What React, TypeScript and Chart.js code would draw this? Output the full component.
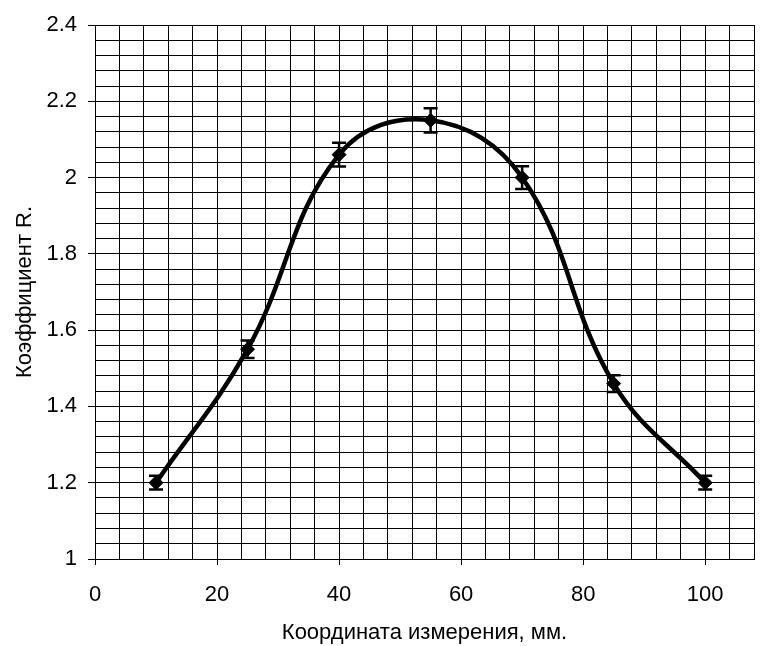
import React, { useEffect, useRef } from "react";
import { Chart, registerables } from "chart.js";

Chart.register(...registerables);

const xValues = [10, 25, 40, 55, 70, 85, 100];
const rValues = [1.2, 1.55, 2.06, 2.15, 2.0, 1.46, 1.2];
const rErrors = [0.018, 0.023, 0.031, 0.032, 0.03, 0.022, 0.018];

const xTitle = "Координата измерения, мм.";
const yTitle = "Коэффициент R.";

const FONT = "'Liberation Sans', Arial, sans-serif";
const FSIZE = 22;

const errorBarPlugin = {
  id: "errorBars",
  afterDatasetsDraw(chart: any) {
    const ctx = chart.ctx;
    const meta = chart.getDatasetMeta(0);
    const ys = chart.scales.y;
    ctx.save();
    ctx.strokeStyle = "#000";
    ctx.lineWidth = 2.5;
    meta.data.forEach((pt: any, i: number) => {
      const x = pt.x;
      const yt = ys.getPixelForValue(rValues[i] + rErrors[i]);
      const yb = ys.getPixelForValue(rValues[i] - rErrors[i]);
      ctx.beginPath();
      ctx.moveTo(x, yt);
      ctx.lineTo(x, yb);
      ctx.moveTo(x - 7, yt);
      ctx.lineTo(x + 7, yt);
      ctx.moveTo(x - 7, yb);
      ctx.lineTo(x + 7, yb);
      ctx.stroke();
    });
    ctx.restore();
  },
};

export default function App() {
  const ref = useRef<HTMLCanvasElement>(null);
  useEffect(() => {
    if (!ref.current) return;
    const chart = new Chart(ref.current, {
      type: "line",
      data: {
        datasets: [
          {
            data: xValues.map((x, i) => ({ x, y: rValues[i] })),
            borderColor: "#000",
            backgroundColor: "#000",
            borderWidth: 4.5,
            tension: 0.4,
            pointStyle: "rectRot",
            pointRadius: 7,
            pointBorderWidth: 1,
            pointBackgroundColor: "#000",
            pointBorderColor: "#000",
            fill: false,
          },
        ],
      },
      options: {
        responsive: false,
        animation: false,
        layout: { padding: { top: 25, right: 3, left: 0, bottom: 0 } },
        plugins: { legend: { display: false }, tooltip: { enabled: false } },
        scales: {
          x: {
            type: "linear",
            min: 0,
            max: 108,
            afterFit: (s: any) => {
              s.height = 87;
            },
            border: { color: "#000", width: 1 },
            grid: {
              color: "#000",
              lineWidth: 1,
              tickLength: 6,
              tickColor: (c: any) =>
                c.tick && Math.round(c.tick.value) % 20 === 0 ? "#000" : "rgba(0,0,0,0)",
            },
            ticks: {
              stepSize: 4,
              autoSkip: false,
              maxRotation: 0,
              padding: 17,
              color: "#000",
              font: { family: FONT, size: FSIZE },
              callback: (v: any) => (Math.round(v) % 20 === 0 ? String(Math.round(v)) : ""),
            },
            title: {
              display: true,
              text: xTitle,
              color: "#000",
              font: { family: FONT, size: FSIZE },
              padding: { top: 0, bottom: 0 },
            },
          },
          y: {
            min: 1,
            max: 2.4,
            afterFit: (s: any) => {
              s.width = 95;
            },
            border: { color: "#000", width: 1 },
            grid: {
              color: "#000",
              lineWidth: 1,
              tickLength: 7,
              tickColor: (c: any) => {
                if (!c.tick) return "rgba(0,0,0,0)";
                const v = c.tick.value * 5;
                return Math.abs(v - Math.round(v)) < 1e-6 ? "#000" : "rgba(0,0,0,0)";
              },
            },
            ticks: {
              stepSize: 0.04,
              autoSkip: false,
              padding: 11,
              color: "#000",
              font: { family: FONT, size: FSIZE },
              callback: (val: any) => {
                const v = Number(val) * 5;
                if (Math.abs(v - Math.round(v)) < 1e-6) {
                  return String(Math.round(v) / 5);
                }
                return "";
              },
            },
            title: {
              display: true,
              text: yTitle,
              color: "#000",
              font: { family: FONT, size: FSIZE },
              padding: { top: 12, bottom: 0 },
            },
          },
        },
      },
      plugins: [errorBarPlugin],
    } as any);
    return () => chart.destroy();
  }, []);
  return (
    <div style={{ position: "fixed", left: 0, top: 0, width: 771, height: 646, background: "#fff" }}>
      <canvas ref={ref} width={771} height={646} />
    </div>
  );
}
